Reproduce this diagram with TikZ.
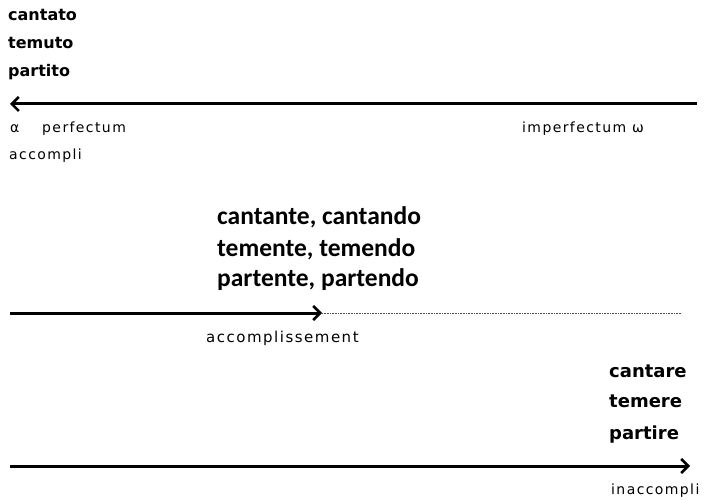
\documentclass[tikz,border=0pt]{standalone}
\usepackage{fontspec}
\setmainfont{DejaVu Sans}
\newfontfamily\midfont{Carlito}
\newfontfamily\spacedfont[LetterSpace=10]{DejaVu Sans}
\usetikzlibrary{arrows.meta}
\begin{document}
\begin{tikzpicture}[x=1pt,y=-1pt,
  bigword/.style={anchor=base west,inner sep=0pt,font=\fontsize{16}{18}\selectfont\bfseries},
  bigwordb/.style={anchor=base west,inner sep=0pt,font=\fontsize{18}{20}\selectfont\bfseries},
  midword/.style={anchor=base west,inner sep=0pt,font=\midfont\fontsize{25.5}{28}\selectfont\bfseries},
  smalllabel/.style={anchor=base west,inner sep=0pt,font=\spacedfont\fontsize{14}{16}\selectfont},
  biglabel/.style={anchor=base west,inner sep=0pt,font=\spacedfont\fontsize{15}{17}\selectfont},
  bigarrow/.style={line width=3pt,-{Straight Barb[length=7pt,width=14pt,line width=2.5pt]}}]
\useasboundingbox (0,0) rectangle (705,500);
% top group
\node[bigword] (w1) at (8,21) {cantato};
\node[bigword] (w2) at (8,49) {temuto};
\node[bigword] (w3) at (8,77) {partito};
\coordinate (a1s) at (697,104);
\coordinate (a1e) at (10,104);
\draw[bigarrow] (a1s) -- (a1e);
\node[smalllabel] (alpha) at (10,133) {α};
\node[smalllabel] (perf) at (42,133) {perfectum};
\node[smalllabel] (imperf) at (522,133) {imperfectum ω};
\node[smalllabel] (acc) at (9,160) {accompli};
% middle group
\node[midword] (m1) at (217,225) {cantante, cantando};
\node[midword] (m2) at (217,256) {temente, temendo};
\node[midword] (m3) at (217,287) {partente, partendo};
\coordinate (a2s) at (10,313);
\coordinate (a2m) at (322,313);
\coordinate (a2e) at (682,313);
\draw[bigarrow] (a2s) -- (a2m);
\draw[line width=0.8pt,black!70,dash pattern=on 0.8pt off 0.8pt] (a2m) -- (a2e);
\node[biglabel] (accs) at (206,342) {accomplissement};
% bottom group
\node[bigwordb] (b1) at (609,377) {cantare};
\node[bigwordb] (b2) at (609,407) {temere};
\node[bigwordb] (b3) at (609,439) {partire};
\coordinate (a3s) at (10,466);
\coordinate (a3e) at (690,466);
\draw[bigarrow] (a3s) -- (a3e);
\node[smalllabel] (inacc) at (611,494) {inaccompli};
\end{tikzpicture}
\end{document}
